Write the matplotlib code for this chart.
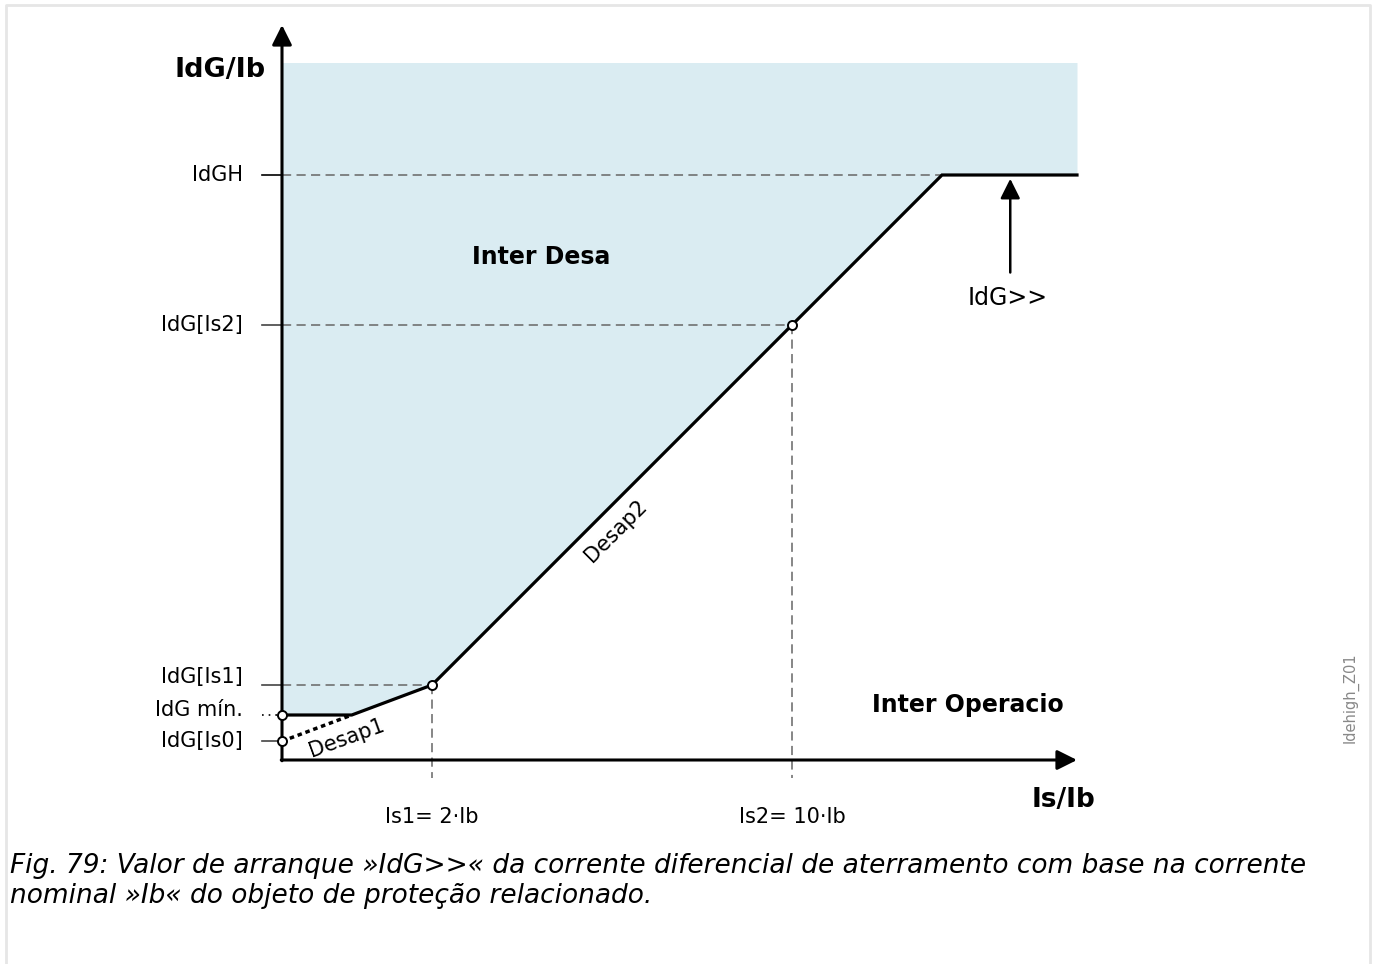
import matplotlib.pyplot as plt

# schematic coordinates of the characteristic (diagram units, not to scale)
is_pts = [0.0, 0.93, 2.0, 6.8, 8.8, 10.6]   # origin, knee, Is1, Is2, IdGH corner, end
idg_pts = [0.6, 0.6, 1.0, 5.8, 7.8, 7.8]
is0_y = 0.25          # IdG[Is0]
top_y = 9.3           # upper edge of the trip area
x_end = 10.6
y_end = 9.8

y_ticks = [7.8, 5.8, 1.0, 0.6, 0.25]
y_labels = ['IdGH', 'IdG[Is2]', 'IdG[Is1]', 'IdG mín.', 'IdG[Is0]']
y_label_pos = [7.8, 5.8, 1.11, 0.66, 0.25]
x_ticks = [2.0, 6.8]
x_labels = ['Is1= 2·Ib', 'Is2= 10·Ib']

caption = ('Fig. 79: Valor de arranque »IdG>>« da corrente diferencial de aterramento com base na corrente\n'
           'nominal »Ib« do objeto de proteção relacionado.')

fill_col = '#daecf2'
dash_col = '#666666'

fig = plt.figure(figsize=(13.76, 9.64), dpi=100)
ax = fig.add_axes([0, 0, 1, 1])
ax.set_xlim(-282 / 75, (1376 - 282) / 75)
ax.set_ylim((760 - 964) / 75, 760 / 75)
ax.axis('off')

# frame around the figure
fig.add_artist(plt.Line2D([0.0047, 0.0047, 0.9956, 0.9956], [0.0, 0.9948, 0.9948, 0.0],
                          transform=fig.transFigure, color='#e6e6e6', lw=2))

# trip area
ax.fill_between(is_pts, idg_pts, top_y, color=fill_col, lw=0)

# dashed guide lines
ax.plot([0, is_pts[4]], [7.8, 7.8], ls=(0, (6, 3.5)), color=dash_col, lw=1.1)
ax.plot([0, is_pts[3]], [5.8, 5.8], ls=(0, (6, 3.5)), color=dash_col, lw=1.1)
ax.plot([0, is_pts[2]], [1.0, 1.0], ls=(0, (6, 3.5)), color=dash_col, lw=1.1)
for xv, yv in [(is_pts[2], idg_pts[2]), (is_pts[3], idg_pts[3])]:
    ax.plot([xv, xv], [yv, -0.24], ls=(0, (6, 3.5)), color=dash_col, lw=1.1)

# small ticks on the y axis
for yv in y_ticks:
    if yv == 0.6:
        ax.plot([-0.27, 0], [yv, yv], color='k', lw=1.2, ls=(0, (1, 3)))
    else:
        ax.plot([-0.27, 0], [yv, yv], color='#444444' if yv != 7.8 else 'k', lw=1.2)

# axes with arrows
ax.annotate('', xy=(0, y_end), xytext=(0, -0.01),
            arrowprops=dict(arrowstyle='-|>', color='k', lw=2.2, mutation_scale=30,
                            shrinkA=0, shrinkB=0))
ax.annotate('', xy=(x_end, 0), xytext=(-0.01, 0),
            arrowprops=dict(arrowstyle='-|>', color='k', lw=2.2, mutation_scale=30,
                            shrinkA=0, shrinkB=0))

# characteristic
ax.plot(is_pts, idg_pts, color='k', lw=2.3, solid_joinstyle='miter', zorder=4)
ax.plot([0, is_pts[1]], [is0_y, idg_pts[1]], color='k', lw=2.5, ls=(0, (1.3, 1.1)), zorder=4)

# open circles
ax.plot([0, 0, is_pts[2], is_pts[3]], [0.6, is0_y, 1.0, 5.8], 'o', ms=6.5,
        mfc='white', mec='k', mew=1.4, zorder=5)

# IdG>> arrow
ax.annotate('', xy=(9.71, 7.75), xytext=(9.71, 6.5),
            arrowprops=dict(arrowstyle='-|>', color='k', lw=1.8, mutation_scale=30,
                            shrinkA=0, shrinkB=0))
ax.text(9.67, 6.16, 'IdG>>', fontsize=17, ha='center', va='center')

# labels
for yv, lab in zip(y_label_pos, y_labels):
    ax.text(-0.52, yv, lab, fontsize=15, ha='right', va='center')
for xv, lab in zip(x_ticks, x_labels):
    ax.text(xv, -0.76, lab, fontsize=15, ha='center', va='center')

ax.text(-0.22, 9.2, 'IdG/Ib', fontsize=19.5, fontweight='bold', ha='right', va='center')
ax.text(10.85, -0.53, 'Is/Ib', fontsize=19, fontweight='bold', ha='right', va='center')
ax.text(3.45, 6.7, 'Inter Desa', fontsize=17, fontweight='bold', ha='center', va='center')
ax.text(9.15, 0.73, 'Inter Operacio', fontsize=17, fontweight='bold', ha='center', va='center')
ax.text(4.45, 3.05, 'Desap2', fontsize=15, rotation=45, ha='center', va='center')
ax.text(0.86, 0.29, 'Desap1', fontsize=15, rotation=20, ha='center', va='center')
ax.text(14.25, 0.83, 'Idehigh_Z01', fontsize=10.5, rotation=90, color='#888888',
        ha='center', va='center')

fig.text(0.0075, 0.0861, caption, fontsize=19, style='italic', ha='left', va='center',
         linespacing=1.2)

fig.savefig('out.png', dpi=100)
